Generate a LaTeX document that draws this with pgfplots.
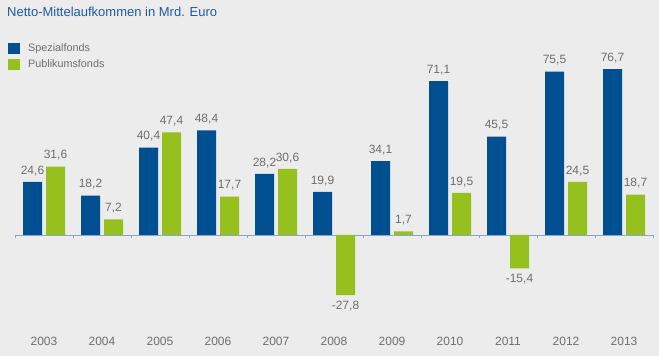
\documentclass[border=0pt]{standalone}
\usepackage{pgfplots}
\pgfplotsset{compat=1.18}
\usepackage{fontspec}
\setmainfont{Liberation Sans}
\definecolor{bgc}{RGB}{236,236,236}
\definecolor{spez}{RGB}{0,80,145}
\definecolor{publ}{RGB}{150,192,30}
\definecolor{titleblue}{RGB}{30,90,160}
\definecolor{txtgray}{RGB}{110,110,110}
\definecolor{axisc}{RGB}{140,165,195}
\begin{document}
\begin{tikzpicture}
\fill[bgc] (0,0) rectangle (659pt,356pt);
\node[anchor=base west, inner sep=0pt, text=titleblue, font=\fontsize{13}{15}\selectfont] at (7pt,339pt) {Netto-Mittelaufkommen in Mrd. Euro};
\begin{axis}[
  at={(15pt,12.8pt)}, anchor=south west,
  scale only axis, width=638pt, height=324.6pt,
  xmin=-0.5, xmax=10.5, ymin=-50, ymax=100,
  clip=false,
  axis y line=none,
  axis x line*=middle,
  x axis line style={axisc, line width=0.8pt},
  ybar=4pt, bar width=19pt,
  xtick={0,...,10},
  xticklabels={2003,2004,2005,2006,2007,2008,2009,2010,2011,2012,2013},
  major x tick style={draw=none},
  minor xtick={-0.5,0.5,...,10.5},
  minor x tick style={axisc, line width=0.6pt},
  minor tick length=3pt,
  tick align=outside,
  xticklabel style={anchor=base, yshift=-106pt, text=txtgray, font=\fontsize{12}{14}\selectfont},
  nodes near coords,
  nodes near coords style={text=txtgray, font=\fontsize{12}{14}\selectfont, inner sep=6pt},
  /pgf/number format/.cd, use comma, fixed, fixed zerofill, precision=1, assume math mode=true,
  /pgfplots/.cd,
  legend style={at={(axis description cs:-0.011,0.928)}, anchor=north west, draw=none, fill=none,
    font=\fontsize{10.8}{13}\selectfont, text=txtgray, inner sep=0pt, row sep=2pt},
  legend cell align=left,
]
\addplot[fill=spez, draw=none, legend image code/.code={\fill[spez] (0pt,-5.5pt) rectangle (12pt,5.5pt); \path (18pt,0pt);}] coordinates {
(0,24.6) (1,18.2) (2,40.4) (3,48.4) (4,28.2) (5,19.9) (6,34.1) (7,71.1) (8,45.5) (9,75.5) (10,76.7)};
\addplot[fill=publ, draw=none, legend image code/.code={\fill[publ] (0pt,-5.5pt) rectangle (12pt,5.5pt); \path (18pt,0pt);}] coordinates {
(0,31.6) (1,7.2) (2,47.4) (3,17.7) (4,30.6) (5,-27.8) (6,1.7) (7,19.5) (8,-15.4) (9,24.5) (10,18.7)};
\legend{Spezialfonds,Publikumsfonds}
\end{axis}
\pgfresetboundingbox
\path[use as bounding box] (0,0) rectangle (659pt,356pt);
\end{tikzpicture}
\end{document}
